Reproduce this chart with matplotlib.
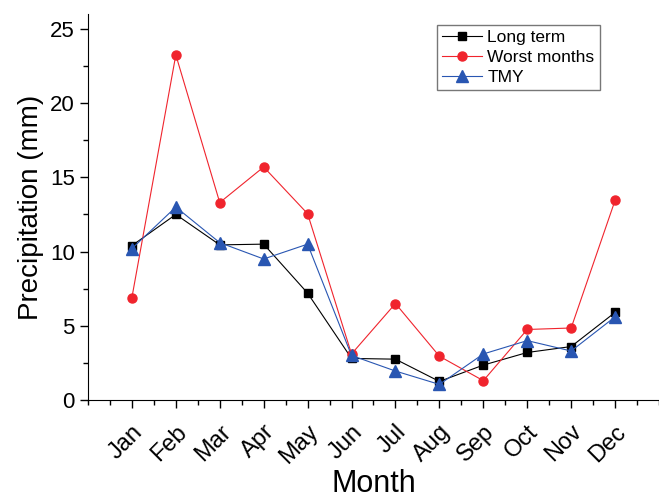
import matplotlib
matplotlib.use("Agg")
import matplotlib.pyplot as plt
from matplotlib.ticker import MultipleLocator

plt.rcParams['font.family'] = ['Liberation Sans', 'DejaVu Sans']

months = ['Jan', 'Feb', 'Mar', 'Apr', 'May', 'Jun', 'Jul', 'Aug', 'Sep', 'Oct', 'Nov', 'Dec']
long_term = [10.4, 12.5, 10.45, 10.5, 7.2, 2.8, 2.75, 1.25, 2.35, 3.2, 3.6, 5.9]
worst_months = [6.9, 23.25, 13.3, 15.7, 12.55, 3.1, 6.5, 2.95, 1.3, 4.75, 4.85, 13.45]
tmy = [10.2, 13.0, 10.6, 9.5, 10.5, 3.0, 1.95, 1.05, 3.1, 4.0, 3.3, 5.6]

x = list(range(1, len(months) + 1))

fig = plt.figure(figsize=(6.59, 5.03), dpi=100)
ax = fig.add_axes([0.1335, 0.2048, 0.8665, 0.7672])

ax.plot(x, long_term, '-s', color='black', lw=0.8, ms=5.5, label='Long term')
ax.plot(x, worst_months, '-o', color='#f0242d', lw=0.8, ms=6.5, label='Worst months')
ax.plot(x, tmy, '-^', color='#2956b2', lw=0.8, ms=8, label='TMY')

ax.set_xlim(0, 13)
ax.set_ylim(0, 26)
ax.set_xticks(x)
ax.set_xticklabels(months, rotation=45, ha='right', rotation_mode='anchor')
ax.xaxis.set_minor_locator(MultipleLocator(0.5))
ax.yaxis.set_major_locator(MultipleLocator(5))
ax.yaxis.set_minor_locator(MultipleLocator(2.5))
ax.tick_params(which='major', direction='out', length=6, width=1, labelsize=16)
ax.tick_params(which='minor', direction='out', length=3.5, width=1)
ax.tick_params(axis='x', labelsize=17, pad=9)

for s in ['top', 'right']:
    ax.spines[s].set_visible(False)

ax.set_xlabel('Month', fontsize=22, labelpad=1)
ax.set_ylabel('Precipitation (mm)', fontsize=20)

leg = ax.legend(loc='upper right', bbox_to_anchor=(0.896, 0.972), fontsize=12.5,
                fancybox=False, edgecolor='#555555', handlelength=2.3,
                borderpad=0.3, labelspacing=0.28, handletextpad=0.3,
                borderaxespad=0)
leg.get_frame().set_linewidth(1)

fig.savefig('out.png', dpi=100)
